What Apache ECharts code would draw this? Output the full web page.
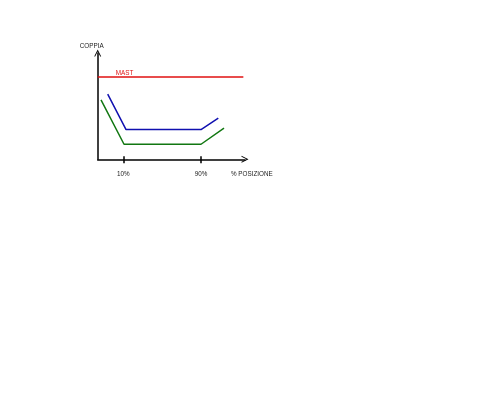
<!DOCTYPE html>
<html><head><meta charset="utf-8">
<script src="https://cdn.jsdelivr.net/npm/echarts@6/dist/echarts.min.js"></script>
<style>html,body{margin:0;padding:0;background:#fff}#c{width:500px;height:400px}</style>
</head><body><div id="c"></div>
<script>
const tickValues = [10, 90];
const tickLabels = ['10%', '90%'];
const mastLine = [[-16.4, 82], [133.6, 82]];
const mastLabelPos = [11.2, 82];
const blueLine = [[-6.1, 65], [12.8, 29.6], [90, 29.6], [107.8, 41]];
const greenLine = [[-13, 59.3], [10.7, 15], [90, 15], [113.7, 31]];
const xName = '% POSIZIONE';
const yName = 'COPPIA';
const mastName = 'MAST';

const chevron = 'path://M0,10 L5,0 L10,10 L8.6,10 L5,2.8 L1.4,10 Z';
const font = 'Liberation Sans, Arial, sans-serif';
const fs = 6.3;
const chart = echarts.init(document.getElementById('c'));
chart.setOption({
  animation: false,
  grid: {left: 97.7, right: 255, top: 53, bottom: 240.7},
  xAxis: [{
    type: 'value', min: -16.4, max: 135.3,
    name: xName, nameLocation: 'end', nameGap: -14,
    nameTextStyle: {fontFamily: font, fontSize: fs, color: '#222', align: 'left', verticalAlign: 'top', padding: [11.8, 0, 0, 0]},
    axisLine: {show: true, onZero: false, symbol: ['none', chevron], symbolSize: [7, 8], lineStyle: {color: '#000', width: 1.5}},
    axisTick: {show: true, customValues: tickValues, length: 4, lineStyle: {color: '#000', width: 1.5}},
    axisLabel: {show: true, customValues: tickValues, margin: 11.5, fontFamily: font, fontSize: fs, color: '#222',
      formatter: v => tickLabels[tickValues.indexOf(v)] || ''},
    splitLine: {show: false}
  }, {
    type: 'value', min: -16.4, max: 135.3, position: 'bottom',
    axisLine: {show: false, onZero: false},
    axisTick: {show: true, inside: true, customValues: tickValues, length: 3, lineStyle: {color: '#000', width: 1.5}},
    axisLabel: {show: false},
    splitLine: {show: false}
  }],
  yAxis: {
    type: 'value', min: 0, max: 106,
    name: yName, nameLocation: 'end', nameGap: 3.5,
    nameTextStyle: {fontFamily: font, fontSize: fs, color: '#222', align: 'center', padding: [0, 12, 0, 0]},
    axisLine: {show: true, onZero: false, symbol: ['none', chevron], symbolSize: [7, 8], lineStyle: {color: '#000', width: 1.5}},
    axisTick: {show: false}, axisLabel: {show: false}, splitLine: {show: false}
  },
  series: [
    {type: 'line', data: mastLine, symbol: 'none', lineStyle: {color: '#e01010', width: 1.5},
      markPoint: {symbol: 'circle', symbolSize: 1, itemStyle: {color: 'rgba(0,0,0,0)'},
        data: [{coord: mastLabelPos, value: mastName}],
        label: {show: true, formatter: mastName, position: 'top', distance: 0, fontFamily: font, fontSize: fs, color: '#e01010'}}},
    {type: 'line', data: blueLine, symbol: 'none', lineStyle: {color: '#1010b0', width: 1.5}},
    {type: 'line', data: greenLine, symbol: 'none', lineStyle: {color: '#117711', width: 1.5}}
  ]
});
</script></body></html>
